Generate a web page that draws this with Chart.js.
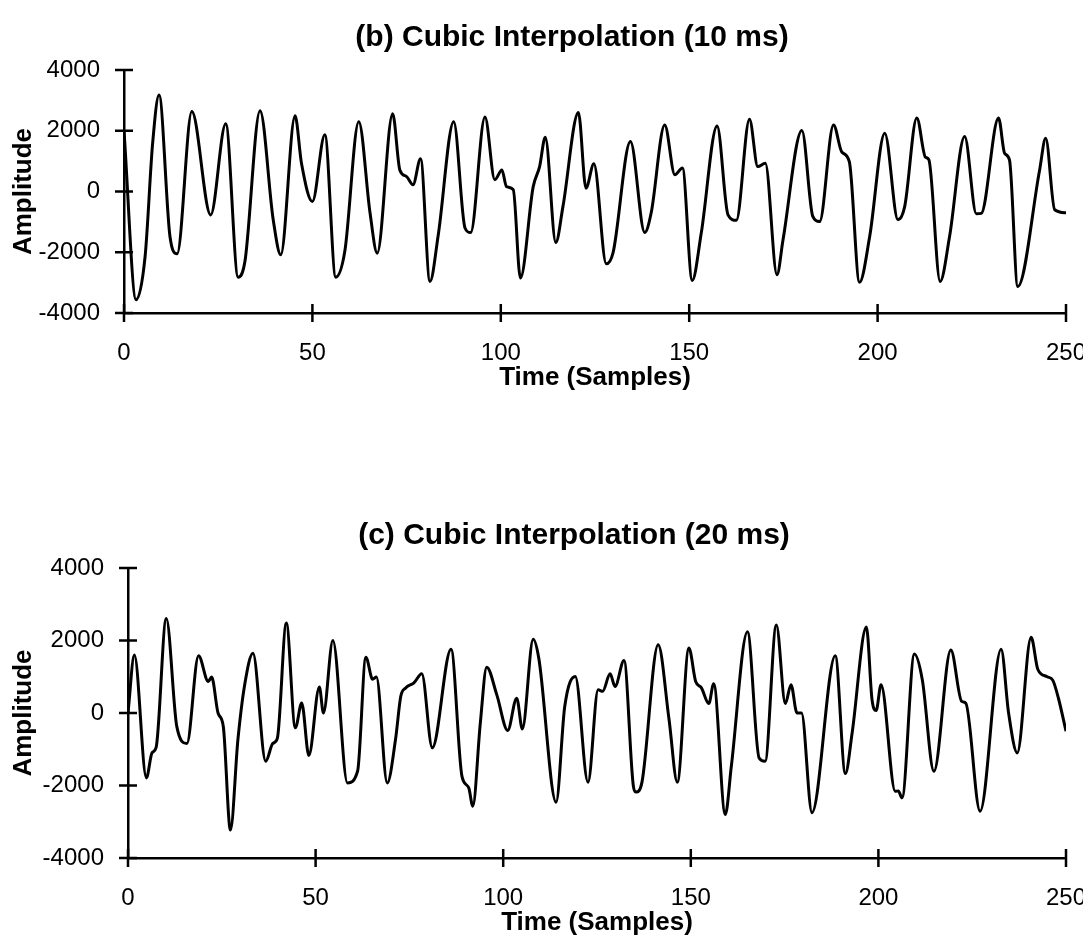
<!DOCTYPE html>
<html>
<head>
<meta charset="utf-8">
<script src="https://cdn.jsdelivr.net/npm/chart.js@4.4.0/dist/chart.umd.min.js"></script>
<style>
  body { margin:0; background:#fff; }
  #wrap { position:relative; width:1083px; height:949px; background:#fff; }
  .box { position:absolute; left:0; width:1083px; }
  #boxB { top:0; height:400px; }
  #boxC { top:500px; height:449px; }
</style>
</head>
<body>
<div id="wrap">
  <div class="box" id="boxB"><canvas id="graficoB"></canvas></div>
  <div class="box" id="boxC"><canvas id="graficoC"></canvas></div>
</div>
<script>
// DADOS
const tituloB = "(b) Cubic Interpolation (10 ms)";
const tituloC = "(c) Cubic Interpolation (20 ms)";
const rotuloX = "Time (Samples)";
const rotuloY = "Amplitude";
const ticksX = [0, 50, 100, 150, 200, 250];
const ticksY = [-4000, -2000, 0, 2000, 4000];

// (b) 10 ms
const tempoB = [0, 3.2, 5.6, 7.6, 9.3, 12.2, 14.1, 18.0, 23.0, 27.0, 30.3, 32.1, 36.1, 39.6, 41.6,
  45.4, 47.1, 50.0, 53.3, 56.2, 58.6, 62.3, 65.3, 67.2, 71.3, 73.2, 75.0, 76.7, 78.7, 81.2, 83.4,
  87.5, 90.5, 92.0, 95.8, 98.4, 100.3, 101.5, 103.3, 105.2, 108.6, 110.3, 111.8, 114.6, 116.5,
  120.6, 122.6, 124.7, 128.0, 129.8, 134.4, 138.2, 139.9, 143.5, 146.2, 148.2, 150.8, 153.2,
  157.4, 160.3, 162.5, 166.0, 168.2, 170.2, 173.3, 174.9, 179.9, 182.8, 184.6, 188.3, 190.5,
  192.5, 195.2, 197.9, 201.9, 205.4, 207.2, 210.4, 212.7, 213.6, 216.6, 219.1, 223.1, 226.2,
  227.5, 232.1, 233.7, 235.0, 237.2, 243.0, 244.6, 247.0, 250];
const ampB = [2000, -3560, -2140, 1590, 3180, -1480, -2050, 2630, -770, 2230, -2820, -2300, 2660, -930, -2080,
  2490, 930, -330, 1870, -2820, -1970, 2300, -710, -2030, 2560, 710, 490, 220, 1080, -2960, -1430,
  2300, -1200, -1350, 2450, 390, 710, 160, 60, -2850, 160, 820, 1790, -1680, -490,
  2600, 110, 910, -2380, -2010, 1650, -1350, -710, 2190, 550, 770, -2930, -1370,
  2160, -770, -950, 2380, 820, 930, -2740, -1590, 2010, -820, -990, 2190, 1300,
  980, -2990, -1480, 1920, -930, -490, 2420, 1130, 1050, -2960, -1480, 1810, -730,
  -720, 2420, 1260, 1040, -3130, 710, 1750, -600, -700];

// (c) 20 ms
const tempoC = [0, 1.7, 4.9, 6.4, 7.5, 10.2, 13.0, 15.7, 18.8, 21.4, 22.3, 24.0, 25.4, 27.3, 29.3,
  31.1, 33.3, 36.7, 38.6, 39.8, 42.2, 44.6, 46.3, 48.2, 51.0, 52.1, 54.6, 58.5, 61.2, 63.4, 65.2,
  66.2, 69.1, 71.3, 72.7, 74.0, 76.2, 78.3, 81.1, 86.1, 89.0, 90.8, 91.9, 93.9, 95.6, 98.3, 101.2,
  103.6, 105.1, 108.0, 109.5, 114.1, 116.4, 119.2, 122.6, 125.3, 126.5, 128.5, 129.8, 132.2, 134.7,
  135.4, 137.0, 141.3, 144.2, 146.4, 149.5, 151.3, 152.8, 154.8, 156.1, 159.2, 160.8, 165.1, 168.2,
  169.8, 172.8, 175.2, 176.7, 178.3, 179.5, 182.3, 188.5, 191.2, 193.0, 196.8, 198.3, 199.4, 200.7,
  204.5, 205.3, 206.3, 209.6, 211.7, 214.8, 219.3, 222.2, 223.3, 227.1, 232.7, 234.7, 237.0, 240.7,
  242.5, 245.0, 246.5, 248.0, 250];
const ampC = [0, 1600, -1790, -1100, -950, 2610, -370, -840, 1580, 870, 990, 0, -370, -3230, -730,
  780, 1650, -1330, -840, -700, 2480, -410, 275, -1170, 715, 0, 2000, -1930, -1600, 1540, 930,
  990, -1930, -730, 460, 690, 830, 1080, -960, 1760, -1740, -2060, -2570, -280, 1265, 500, -480,
  410, -440, 2035, 1500, -2460, 180, 1010, -1910, 640, 600, 1080, 730, 1450, -2020,
  -2180, -1900, 1880, -180, -1910, 1790, 870, 700, 260, 810, -2800, -1470, 2240, -1240,
  -1330, 2430, 260, 780, 0, 0, -2750, 1580, -1670, -550, 2370, 370, 70, 780,
  -2160, -2150, -2340, 1630, 920, -1610, 1740, 320, 270, -2710, 1760, 0, -1100, 2090,
  1200, 1000, 900, 400, -500];

const FONTE = "'Liberation Sans', Arial, sans-serif";

// MARCAS DE EIXO (cruzando a linha do eixo)
const marcas = {
  id: "marcas",
  afterLayout(chart) {
    // título um pouco à esquerda do centro da área do gráfico
    const t = chart.titleBlock;
    if (t) { t.left -= 23; t.right -= 23; }
  },
  afterDraw(chart) {
    const ctx = chart.ctx;
    const sx = chart.scales.x, sy = chart.scales.y;
    ctx.save();
    ctx.strokeStyle = "#000";
    ctx.lineWidth = 2.5;
    ctx.beginPath();
    ticksX.forEach(v => {
      const px = sx.getPixelForValue(v);
      ctx.moveTo(px, sy.bottom - 9); ctx.lineTo(px, sy.bottom + 9);
    });
    ticksY.forEach(v => {
      const py = sy.getPixelForValue(v);
      ctx.moveTo(sx.left - 9, py); ctx.lineTo(sx.left + 9, py);
    });
    ctx.stroke();
    ctx.restore();
  }
};

function montarGrafico(id, titulo, tempo, amp, lay) {
  return new Chart(document.getElementById(id), {
    type: "line",
    data: {
      datasets: [{
        data: tempo.map((t, i) => ({ x: t, y: amp[i] })),
        borderColor: "#000",
        borderWidth: 3,
        pointRadius: 0,
        fill: false,
        cubicInterpolationMode: "monotone"
      }]
    },
    options: {
      responsive: true,
      maintainAspectRatio: false,
      animation: false,
      layout: { padding: { left: 0, right: lay.direita, top: 0, bottom: 0 } },
      plugins: {
        legend: { display: false },
        tooltip: { enabled: false },
        title: {
          display: true, text: titulo, color: "#000", fullSize: false,
          font: { family: FONTE, size: 30, weight: "bold" },
          padding: { top: lay.tituloTopo, bottom: lay.tituloBase }
        }
      },
      scales: {
        x: {
          type: "linear", min: 0, max: 250,
          afterBuildTicks: s => { s.ticks = ticksX.map(v => ({ value: v })); },
          ticks: { color: "#000", font: { family: FONTE, size: 24 }, padding: 18, maxRotation: 0,
            callback: v => String(v) },
          grid: { display: false },
          border: { display: true, color: "#000", width: 2.5 },
          title: { display: true, text: rotuloX, color: "#000",
            font: { family: FONTE, size: 26, weight: "bold" }, padding: { top: 0, bottom: lay.xTituloPad } },
          afterFit: s => { s.height = lay.xAltura; s.paddingRight = 0; s.paddingLeft = 0; }
        },
        y: {
          min: -4000, max: 4000,
          afterBuildTicks: s => { s.ticks = ticksY.map(v => ({ value: v })); },
          ticks: { color: "#000", font: { family: FONTE, size: 24 }, padding: 16,
            callback: v => String(v) },
          grid: { display: false },
          border: { display: true, color: "#000", width: 2.5 },
          title: { display: true, text: rotuloY, color: "#000",
            font: { family: FONTE, size: 26, weight: "bold" }, padding: { top: 8, bottom: 0 } },
          afterFit: s => { s.width = lay.yLargura; }
        }
      }
    },
    plugins: [marcas]
  });
}

montarGrafico("graficoB", tituloB, tempoB, ampB,
  { direita: 17, tituloTopo: 20, tituloBase: 14, xAltura: 87, xTituloPad: 7, yLargura: 124 });
montarGrafico("graficoC", tituloC, tempoC, ampC,
  { direita: 17, tituloTopo: 18, tituloBase: 14, xAltura: 91, xTituloPad: 11, yLargura: 128 });
</script>
</body>
</html>
